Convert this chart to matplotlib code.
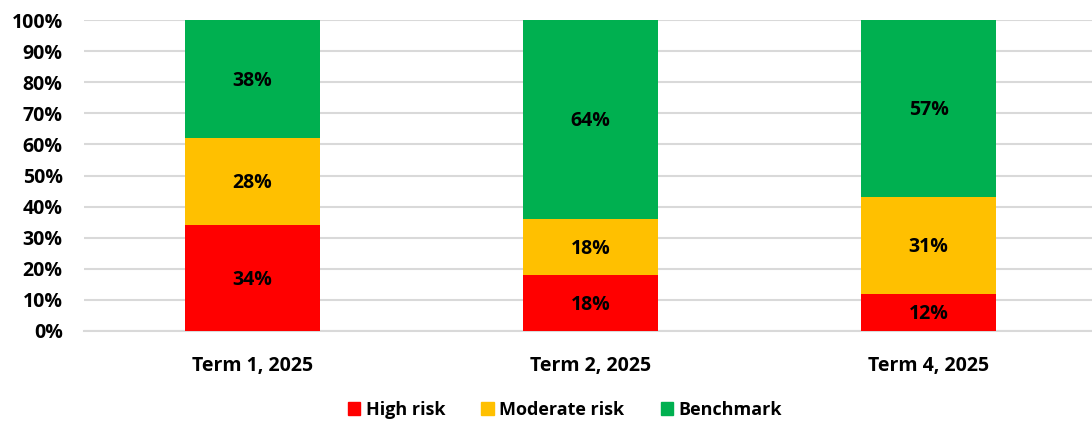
import matplotlib
matplotlib.use("Agg")
import matplotlib.pyplot as plt
from matplotlib.patches import Patch

terms = ["Term 1, 2025", "Term 2, 2025", "Term 4, 2025"]
high_risk = [34, 18, 12]
moderate_risk = [28, 18, 31]
benchmark = [38, 64, 57]

series = [("High risk", high_risk, "#FF0000"),
          ("Moderate risk", moderate_risk, "#FFC000"),
          ("Benchmark", benchmark, "#00B050")]

plt.rcParams['font.family'] = ['Open Sans', 'DejaVu Sans']
plt.rcParams['font.weight'] = 'bold'
FS = 14

fig = plt.figure(figsize=(10.92, 4.24), dpi=100)
ax = fig.add_axes([83.5 / 1092, 1 - 331 / 424, 1014 / 1092, 311 / 424])

x = list(range(len(terms)))
bottom = [0] * len(terms)
for name, vals, color in series:
    ax.bar(x, vals, width=0.4, bottom=bottom, color=color, zorder=3)
    for xi, b, v in zip(x, bottom, vals):
        ax.text(xi, b + v / 2 - 0.5, f"{v}%", ha="center", va="center",
                fontsize=FS, fontweight="bold", color="black", zorder=4)
    bottom = [b + v for b, v in zip(bottom, vals)]

ax.set_xlim(-0.5, 2.5)
ax.set_ylim(0, 100)
ax.set_yticks(range(0, 101, 10))
ax.set_yticklabels([f"{t}%" for t in range(0, 101, 10)], fontsize=FS, fontweight="bold")
ax.set_xticks(x)
ax.set_xticklabels(terms, fontsize=FS, fontweight="bold")
ax.tick_params(axis="both", length=0)
ax.tick_params(axis="y", pad=15)
ax.tick_params(axis="x", pad=18)
ax.grid(axis="y", color="#D9D9D9", linewidth=1.5, zorder=0)
ax.set_axisbelow(True)
for s in ["top", "right", "left"]:
    ax.spines[s].set_visible(False)
ax.spines["bottom"].set_color("#D9D9D9")
ax.spines["bottom"].set_linewidth(1.5)

handles = [Patch(color=c, label=n) for n, _, c in series]
fig.legend(handles=handles, loc="center", bbox_to_anchor=(565 / 1092, 1 - 410 / 424),
           ncol=3, frameon=False, handlelength=0.7, handleheight=0.7,
           handletextpad=0.3, columnspacing=2.0, prop={'weight': 'bold', 'size': 13})

fig.savefig("out.png", dpi=100)
